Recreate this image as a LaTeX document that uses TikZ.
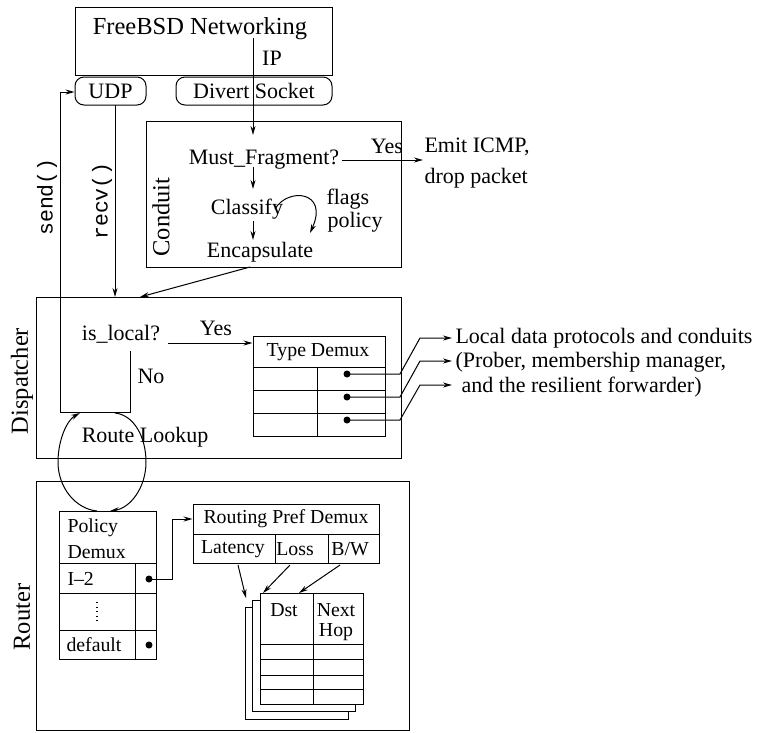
\documentclass[tikz,border=0pt]{standalone}
\usepackage{fontspec}
\setmainfont{Liberation Serif}
\setmonofont{Liberation Mono}
\usetikzlibrary{arrows.meta,fit}
\begin{document}
\begin{tikzpicture}[x=1pt,y=-1pt,line width=1pt,
  box/.style={draw, inner sep=0pt},
  pill/.style={draw, inner sep=0pt, rounded corners=9pt},
  pagebox/.style={draw, fill=white, inner sep=0pt},
  txt/.style={inner sep=0pt, font=\fontsize{22}{26}\selectfont},
  tab/.style={inner sep=0pt, font=\fontsize{19.8}{23}\selectfont},
  big/.style={inner sep=0pt, font=\fontsize{24.5}{28}\selectfont},
  code/.style={inner sep=0pt, font=\fontsize{21.5}{24}\selectfont\ttfamily},
  arr/.style={-{Stealth[length=9pt,width=5pt]}},
  bul/.style={circle, fill, inner sep=0pt, minimum size=7pt},
]
\useasboundingbox (0,0) rectangle (757,732);

% ---------- FreeBSD ----------
\node[box, fit={(75,7) (332,75)}] (fbsd) {};
\node[big] (fbsdt) at (200,29) {FreeBSD Networking};
\node[txt] (ip) at (272,58) {IP};
\node[pill, fit={(75,77) (146,105)}] (udp) {};
\node[txt] (udpt) at (110.5,91) {UDP};
\node[pill, fit={(176,77) (332,105)}] (divert) {};
\node[txt] (divertt) at (254,91) {Divert Socket};

% ---------- Conduit ----------
\node[box, fit={(146,121) (401,267)}] (conduit) {};
\node[big, rotate=90] (conduitl) at (161,217) {Conduit};
\node[txt] (mf) at (264,160) {Must\_Fragment?};
\node[txt] (cls) at (247,209) {Classify};
\node[txt] (enc) at (260,252) {Encapsulate};
\node[txt, anchor=west] (flags) at (326,199) {flags};
\node[txt, anchor=west] (policy) at (327,222) {policy};
\node[txt] (yes1) at (387,146) {Yes};
\node[txt, anchor=west] (emit) at (424,147) {Emit ICMP,};
\node[txt, anchor=west] (drop) at (424,178) {drop packet};

\coordinate (ipstart) at (253,38);
\coordinate (mftop) at (253,135);
\coordinate (mfbot) at (253,167);
\coordinate (clstop) at (253,189);
\coordinate (clsbot) at (253,221);
\coordinate (enctop) at (253,240);
\coordinate (clsr) at (275,209);
\coordinate (polarr) at (310,233);
\coordinate (mfr) at (342,160);
\coordinate (emitl) at (423,160);
\coordinate (encbot) at (250,267);
\coordinate (disptop) at (140,297);
\coordinate (udpbot) at (115,105);
\coordinate (recvend) at (115,297);

\draw[arr] (ipstart) -- (mftop);
\draw[arr] (mfbot) -- (clstop);
\draw[arr] (clsbot) -- (enctop);
\draw[arr] (clsr) .. controls (288,187) and (329,191) .. (polarr);
\draw[arr] (mfr) -- (emitl);
\draw[arr] (encbot) -- (disptop);
\draw[arr] (udpbot) -- (recvend);

\node[code, rotate=90] (send) at (47,197) {send()};
\node[code, rotate=90] (recv) at (102,201) {recv()};

% ---------- Dispatcher ----------
\node[box, fit={(36,297) (401,458)}] (disp) {};
\node[big, rotate=90] (displ) at (22,381) {Dispatcher};
\node[txt] (isl) at (121,334) {is\_local?};
\node[txt] (yes2) at (216,328) {Yes};
\node[txt] (no) at (151,376) {No};
\node[txt] (rl) at (145,437) {Route Lookup};

\coordinate (islr) at (168,343);
\coordinate (nostart) at (130,351);
\coordinate (nocorner) at (130,412);
\coordinate (sendcorner) at (60,412);
\coordinate (sendtop) at (60,92);

\draw[arr] (nostart) -- (nocorner) -- (sendcorner) -- (sendtop) -- (udp.west |- sendtop);

% Type Demux table
\node[box, fit={(253,336) (385,436)}] (tdmx) {};
\node[tab] (tdmxt) at (318,352) {Type Demux};
\draw (253,367) -- (385,367);
\draw (253,390) -- (385,390);
\draw (253,413) -- (385,413);
\draw (317,367) -- (317,436);
\draw[arr] (islr) -- (tdmx.west |- islr);

\node[bul] (d1) at (347,374) {};
\node[bul] (d2) at (347,397) {};
\node[bul] (d3) at (347,420) {};

\node[txt, anchor=west] (loc1) at (455,338) {Local data protocols and conduits};
\node[txt, anchor=west] (loc2) at (455,362) {(Prober, membership manager,};
\node[txt, anchor=west] (loc3) at (461,387) {and the resilient forwarder)};

\draw[arr] (d1.center) -- (400,374) -- (420,338) -- (452,338);
\draw[arr] (d2.center) -- (400,397) -- (420,361) -- (452,361);
\draw[arr] (d3.center) -- (400,420) -- (420,385) -- (452,385);

% ---------- Router ----------
\node[box, fit={(36,481) (409,730)}] (router) {};
\node[big, rotate=90] (routerl) at (22,617) {Router};

% Policy Demux
\node[box, fit={(59,511) (156,659)}] (pdmx) {};
\draw (59,563) -- (156,563);
\draw (59,593) -- (156,593);
\draw (59,630) -- (156,630);
\draw (135,563) -- (135,659);
\node[tab, anchor=west] (pol) at (67,528) {Policy};
\node[tab, anchor=west] (dem) at (67,552) {Demux};
\node[tab, anchor=west] (i2) at (67,579) {I--2};
\draw[line width=1.3pt, dash pattern=on 1.3pt off 3.2pt] (97,602) -- (97,621);
\node[tab, anchor=west] (deflt) at (66,645) {default};
\node[bul] (b1) at (149,579) {};
\node[bul] (b2) at (149,645) {};

% Routing Pref Demux
\node[box, fit={(193,504) (379,563)}] (rpd) {};
\draw (193,534) -- (379,534);
\draw (275,534) -- (275,563);
\draw (328,534) -- (328,563);
\node[tab] (rpdt) at (286,519) {Routing Pref Demux};
\node[tab] (lat) at (233,549) {Latency};
\node[tab] (loss) at (295,549) {Loss};
\node[tab] (bw) at (350,549) {B/W};

\draw[arr] (b1.center) -- (172,579) -- (172,519) -- (rpd.west |- 0,519);

% stacked routing tables
\node[pagebox, fit={(245,607) (348,719)}] (pg3) {};
\node[pagebox, fit={(252,600) (355,711)}] (pg2) {};
\node[pagebox, fit={(260,593) (363,704)}] (pg1) {};
\draw (313,593) -- (313,704);
\draw (260,644) -- (363,644);
\draw (260,659) -- (363,659);
\draw (260,675) -- (363,675);
\draw (260,689) -- (363,689);
\node[tab] (dst) at (284,610) {Dst};
\node[tab] (nxt) at (336,610) {Next};
\node[tab] (hop) at (336,632) {Hop};

\draw[arr] (238,565) -- (246,598);
\draw[arr] (290,565) -- (263,593);
\draw[arr] (340,565) -- (299,593);

% Route lookup loop
\coordinate (loopa) at (115,413);
\coordinate (loopb) at (110,511);
\coordinate (loopc) at (97,511);
\coordinate (loopd) at (80,413);
\draw[arr] (loopa) .. controls (134,415) and (146,437) .. (146,462)
                   .. controls (146,488) and (130,508) .. (loopb);
\draw[arr] (loopc) .. controls (76,509) and (58,488) .. (58,462)
                   .. controls (58,440) and (67,420) .. (loopd);
\end{tikzpicture}
\end{document}
